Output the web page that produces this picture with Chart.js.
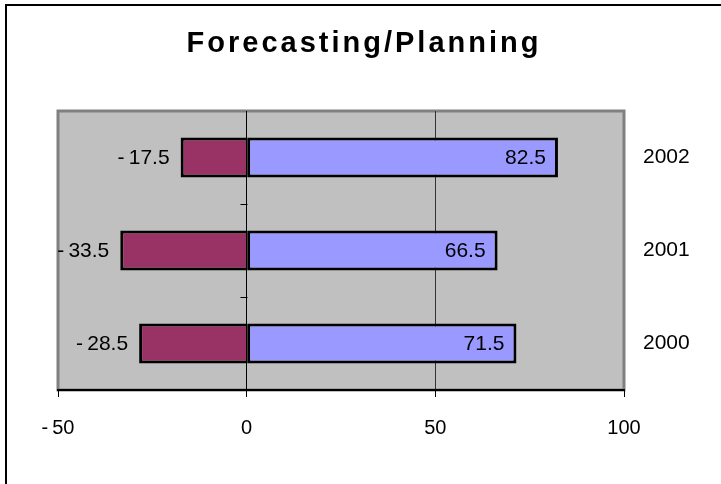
<!DOCTYPE html>
<html>
<head>
<meta charset="utf-8">
<script src="https://cdn.jsdelivr.net/npm/chart.js@4"></script>
<style>
  html, body { margin: 0; padding: 0; background: #fff; }
  #wrap { width: 721px; height: 484px; position: relative; }
</style>
</head>
<body>
<div id="wrap"><canvas id="chart" width="721" height="484"></canvas></div>
<script>
// data
var years = ["2002", "2001", "2000"];
var negValues = [-17.5, -33.5, -28.5];
var posValues = [82.5, 66.5, 71.5];
var xTicks = [-50, 0, 50, 100];
var chartTitle = "Forecasting/Planning";

var FONT = "Arial, 'Liberation Sans', sans-serif";

function fmt(v) {
    // excel puts a little gap after the minus sign
    return v < 0 ? "-\u2009" + Math.abs(v) : String(v);
}

// gray plot area, frame, and the little ticks on the zero line
var backdrop = {
    id: "backdrop",
    beforeDraw: function(chart) {
        var ctx = chart.ctx, a = chart.chartArea;
        ctx.save();
        ctx.fillStyle = "#fff";
        ctx.fillRect(0, 0, chart.width, chart.height);
        // outer frame
        ctx.strokeStyle = "#000";
        ctx.lineWidth = 2;
        ctx.beginPath();
        ctx.moveTo(6, chart.height + 2);
        ctx.lineTo(6, 5);
        ctx.lineTo(chart.width + 2, 5);
        ctx.stroke();
        // plot area
        ctx.fillStyle = "#c0c0c0";
        ctx.fillRect(a.left, a.top, a.right - a.left, a.bottom - a.top);
        ctx.strokeStyle = "#808080";
        ctx.lineWidth = 3;
        ctx.strokeRect(a.left, a.top, a.right - a.left, a.bottom - a.top);
        ctx.restore();
    },
    beforeDatasetsDraw: function(chart) {
        var ctx = chart.ctx, x = chart.scales.x, y = chart.scales.y;
        var x0 = Math.round(x.getPixelForValue(0)) + 0.5;
        ctx.save();
        ctx.strokeStyle = "#000";
        ctx.lineWidth = 1;
        for (var i = 0; i < years.length - 1; i++) {
            var yy = Math.round((y.getPixelForValue(i) + y.getPixelForValue(i + 1)) / 2) + 0.5;
            ctx.beginPath();
            ctx.moveTo(x0 - 7, yy);
            ctx.lineTo(x0, yy);
            ctx.stroke();
        }
        ctx.restore();
    }
}; // backdrop

// value labels and title
var labelsPlugin = {
    id: "labelsPlugin",
    afterDraw: function(chart) {
        var ctx = chart.ctx;
        ctx.save();
        ctx.fillStyle = "#000";
        ctx.font = "21px " + FONT;
        ctx.textBaseline = "middle";

        chart.getDatasetMeta(0).data.forEach(function(bar, i) {
            ctx.textAlign = "right";
            ctx.fillText(fmt(negValues[i]), bar.x - 11, bar.y + 1);
        });
        chart.getDatasetMeta(1).data.forEach(function(bar, i) {
            ctx.textAlign = "right";
            ctx.fillText(fmt(posValues[i]), bar.x - 12, bar.y + 1);
        });

        ctx.font = "bold 29px " + FONT;
        ctx.letterSpacing = "3px";
        ctx.textAlign = "center";
        ctx.textBaseline = "alphabetic";
        ctx.fillText(chartTitle, 364, 52);
        ctx.restore();
    }
}; // labels

new Chart(document.getElementById("chart"), {
    type: "bar",
    data: {
        labels: years,
        datasets: [
            {
                label: "neg",
                data: negValues,
                backgroundColor: "#993366",
                borderColor: "#000",
                borderWidth: 3,
                borderSkipped: "start",
                barPercentage: 0.43,
                categoryPercentage: 1
            },
            {
                label: "pos",
                data: posValues,
                backgroundColor: "#9999ff",
                borderColor: "#000",
                borderWidth: 3,
                borderSkipped: false,
                barPercentage: 0.43,
                categoryPercentage: 1
            }
        ]
    },
    options: {
        indexAxis: "y",
        responsive: false,
        animation: false,
        layout: { padding: { left: 58, top: 111, right: 0, bottom: 0 } },
        plugins: {
            legend: { display: false },
            title: { display: false },
            tooltip: { enabled: false }
        },
        scales: {
            x: {
                stacked: true,
                min: -50,
                max: 100,
                afterBuildTicks: function(scale) {
                    scale.ticks = xTicks.map(function(v) { return { value: v }; });
                },
                afterFit: function(scale) { scale.height = 94; },
                grid: {
                    color: function(c) {
                        if (c.tick && c.tick.value === 0) return "#000";
                        if (c.tick && c.tick.value === 50) return "#333";
                        return "rgba(0,0,0,0)";
                    },
                    tickColor: "#000",
                    tickLength: 7,
                    drawTicks: true
                },
                border: { display: true, color: "#000", width: 2 },
                ticks: {
                    color: "#000",
                    font: { size: 20, family: FONT },
                    padding: 19,
                    callback: function(v) { return fmt(v); }
                }
            },
            y: {
                stacked: true,
                position: "right",
                afterFit: function(scale) { scale.width = 97; },
                grid: { display: false },
                border: { display: false },
                ticks: {
                    color: "#000",
                    font: { size: 21, family: FONT },
                    padding: 11
                }
            }
        }
    },
    plugins: [backdrop, labelsPlugin]
});
</script>
</body>
</html>
